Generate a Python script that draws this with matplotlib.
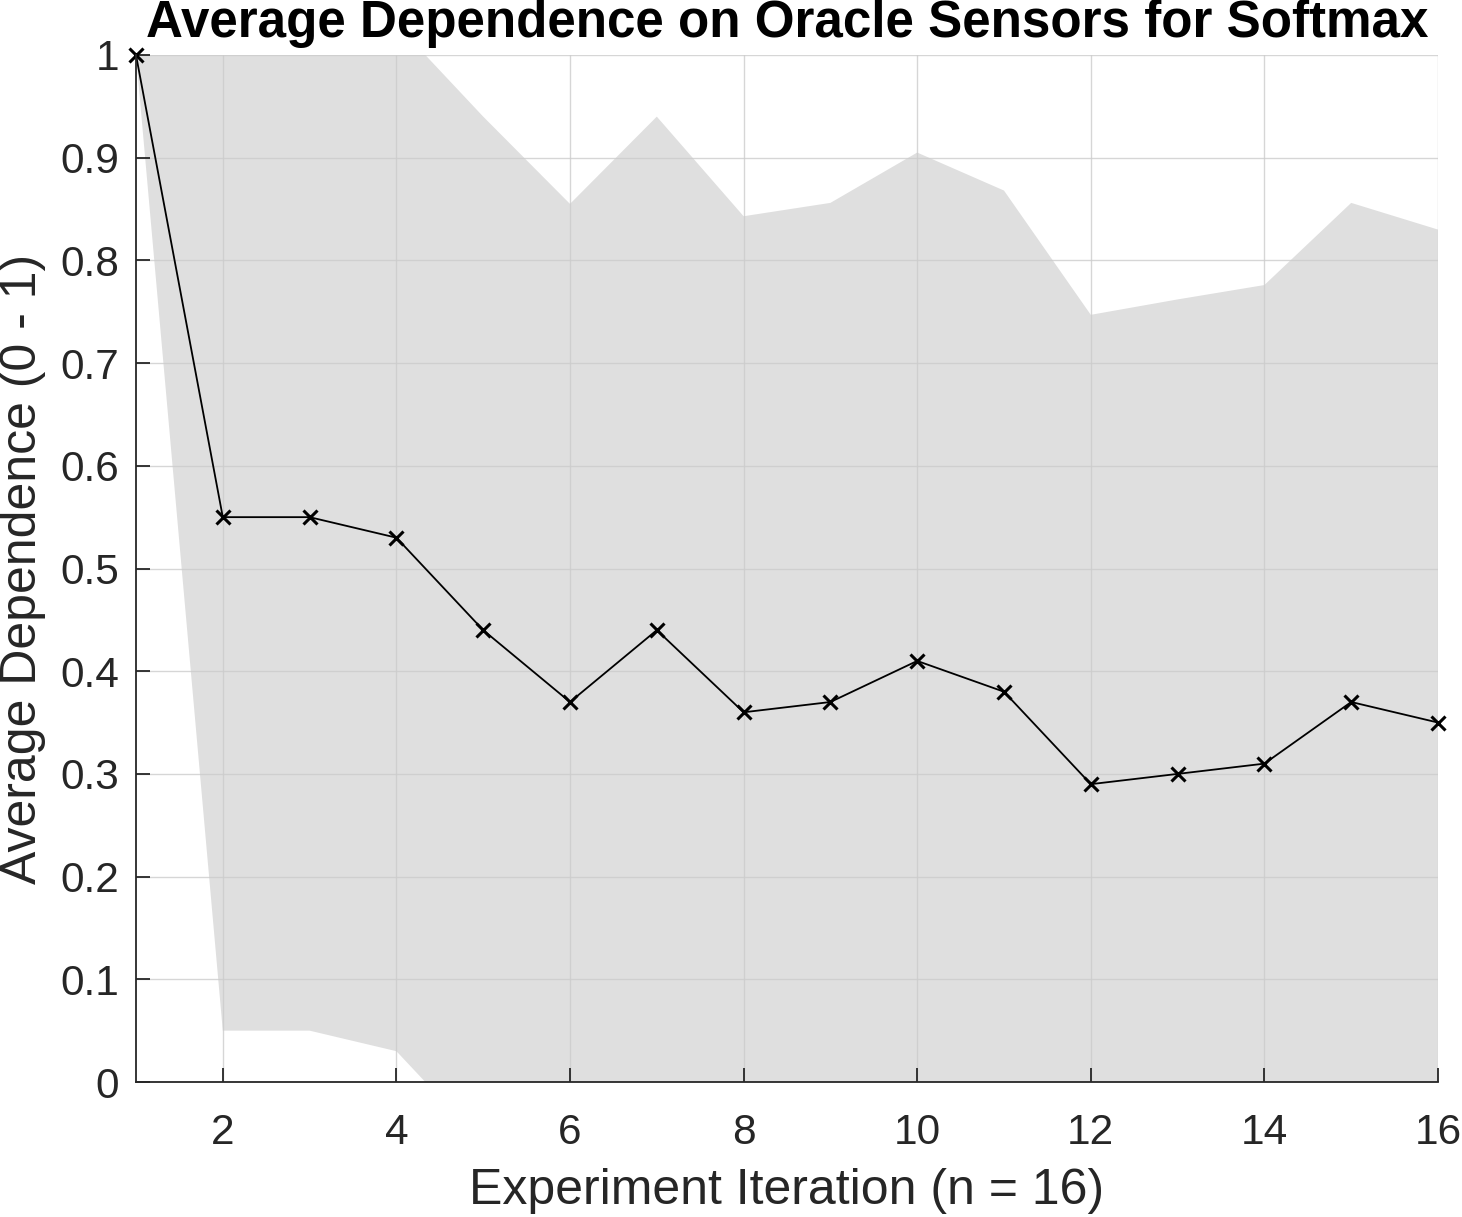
"""Average dependence on oracle sensors (softmax), mean +/- std band."""

import numpy as np
from matplotlib import pyplot as plt

iterations = np.arange(1, 17)
mean_dependence = [1.00, 0.55, 0.55, 0.53, 0.44, 0.37, 0.44, 0.36,
                   0.37, 0.41, 0.38, 0.29, 0.30, 0.31, 0.37, 0.35]
std_dependence = [0.00, 0.50, 0.50, 0.50, 0.50, 0.485, 0.50, 0.483,
                  0.486, 0.495, 0.488, 0.457, 0.462, 0.466, 0.486, 0.48]
x_ticks = [2, 4, 6, 8, 10, 12, 14, 16]
y_ticks = [0, 0.1, 0.2, 0.3, 0.4, 0.5, 0.6, 0.7, 0.8, 0.9, 1]
y_ticklabels = ["0", "0.1", "0.2", "0.3", "0.4", "0.5", "0.6", "0.7", "0.8", "0.9", "1"]

plt.rcParams["font.family"] = ["Liberation Sans", "DejaVu Sans"]

mean = np.array(mean_dependence)
std = np.array(std_dependence)

# axes box in pixels (left, top, right, bottom) on a 1462x1217 canvas
W, H = 1462, 1217
left, top, right, bottom = 136, 55, 1438, 1082
ax_w, ax_h = right - left, bottom - top

figure = plt.figure(figsize=(W / 100, H / 100), dpi=100)
ax = figure.add_axes([left / W, 1 - bottom / H, ax_w / W, ax_h / H])

ax.fill_between(iterations, mean - std, mean + std, color="#dfdfdf", linewidth=0, zorder=1)
ax.plot(iterations, mean, color="black", linewidth=1.3, marker="x", markersize=10,
        markeredgewidth=2.2, zorder=3, clip_on=False)

ax.set_xlim(1, 16)
ax.set_ylim(0, 1)
ax.set_xticks(x_ticks)
ax.set_yticks(y_ticks)
ax.set_yticklabels(y_ticklabels)
ax.grid(color="#cccccc", linewidth=1.0, alpha=0.8, zorder=2)
ax.set_axisbelow(False)

for side in ("top", "right"):
    ax.spines[side].set_visible(False)
for side in ("left", "bottom"):
    ax.spines[side].set_color("#262626")
    ax.spines[side].set_linewidth(1.3)
    ax.spines[side].set_zorder(4)

ax.tick_params(direction="in", length=10, width=1.3, color="#262626",
               labelsize=30.5, labelcolor="#262626")
ax.tick_params(axis="x", pad=22)
ax.tick_params(axis="y", pad=12)

ax.set_xlabel("Experiment Iteration (n = 16)", fontsize=36, color="#262626")
ax.xaxis.set_label_coords(0.5, -(1204 - bottom) / ax_h)
ax.xaxis.label.set_va("baseline")

ax.set_ylabel("Average Dependence (0 - 1)", fontsize=36, color="#262626")
ax.yaxis.set_label_coords(-(left - 36) / ax_w, 0.5)
ax.yaxis.label.set_va("baseline")

ax.set_title("Average Dependence on Oracle Sensors for Softmax", fontsize=36.8,
             fontweight="bold", pad=0, y=1 + (top - 37) / ax_h, va="baseline")

figure.savefig("out.png", dpi=100)
plt.close(figure)
